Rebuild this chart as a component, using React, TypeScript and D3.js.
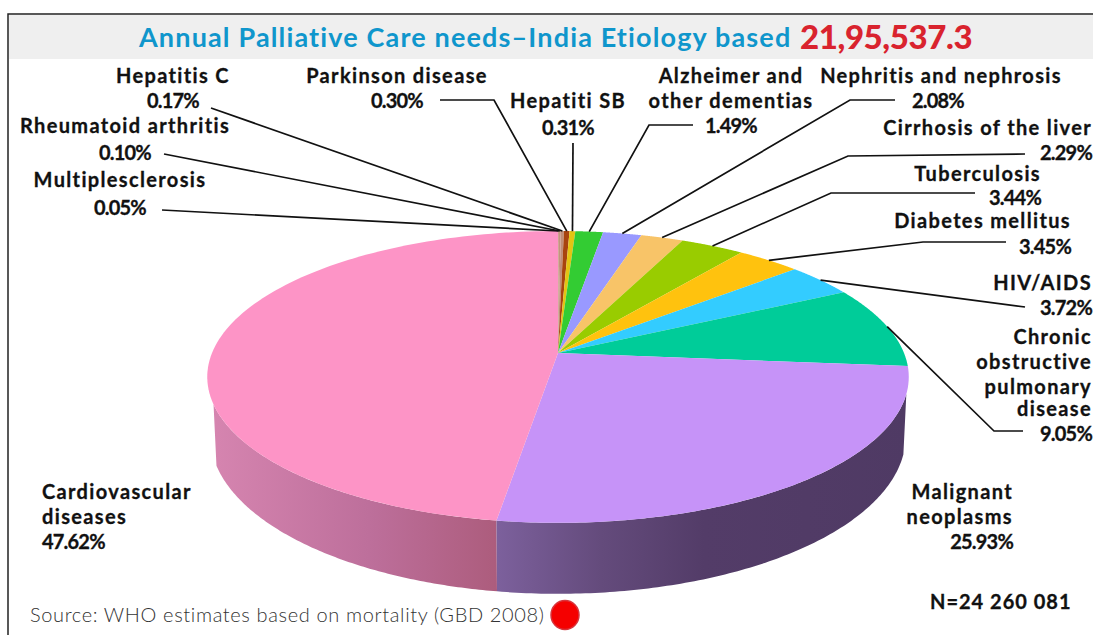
import * as React from 'react';
import * as d3 from 'd3';

const causes = ['Multiple sclerosis', 'Rheumatoid arthritis', 'Hepatitis C', 'Parkinson disease', 'Hepatitis B', 'Alzheimer and other dementias', 'Nephritis and nephrosis', 'Cirrhosis of the liver', 'Tuberculosis', 'Diabetes mellitus', 'HIV/AIDS', 'COPD', 'Malignant neoplasms', 'Cardiovascular diseases'];
const shares = [0.05, 0.10, 0.17, 0.30, 0.31, 1.49, 2.08, 2.29, 3.44, 3.45, 3.72, 9.05, 25.93, 47.62];
const colors = ['#c99a86', '#c4937e', '#c08e78', '#a8440f', '#e3c413', '#33cc33', '#9999ff', '#f8c468', '#99cc00', '#ffc20e', '#33ccff', '#00cc99', '#c693f8', '#fd94c6'];

// label text lines, separate from geometry
const labelLayout = [
  { lines: [['Hepatitis C', 173, 83], ['0.17%', 173, 108]], anchor: 'middle', leader: [[211, 108]], slice: 2 },
  { lines: [['Rheumatoid arthritis', 125, 133], ['0.10%', 125, 160]], anchor: 'middle', leader: [[164, 154]], slice: 1 },
  { lines: [['Multiplesclerosis', 120, 187], ['0.05%', 120, 215]], anchor: 'middle', leader: [[162, 210]], slice: 0 },
  { lines: [['Parkinson disease', 397, 83], ['0.30%', 397, 108]], anchor: 'middle', leader: [[440, 100], [494, 100]], slice: 3 },
  { lines: [['Hepatiti SB', 568, 108], ['0.31%', 568, 135]], anchor: 'middle', leader: [[573, 143]], slice: 4 },
  { lines: [['Alzheimer and', 731, 83], ['other dementias', 731, 108], ['1.49%', 731, 133]], anchor: 'middle', leader: [[693, 125], [649, 125]], slice: 5 },
  { lines: [['Nephritis and nephrosis', 941, 83], ['2.08%', 938, 108]], anchor: 'middle', leader: [[895, 100], [850, 100]], slice: 6 },
  { lines: [['Cirrhosis of the liver', 1092, 135], ['2.29%', 1092, 160]], anchor: 'end', leader: [[1025, 154], [848, 156]], slice: 7 },
  { lines: [['Tuberculosis', 1041, 181], ['3.44%', 1041, 205]], anchor: 'end', leader: [[975, 193], [831, 193]], slice: 8 },
  { lines: [['Diabetes mellitus', 1071, 228], ['3.45%', 1071, 254]], anchor: 'end', leader: [[1006, 242], [923, 242]], slice: 9 },
  { lines: [['HIV/AIDS', 1092, 290], ['3.72%', 1092, 315]], anchor: 'end', leader: [[1025, 307]], slice: 10 },
  { lines: [['Chronic', 1092, 344], ['obstructive', 1092, 369], ['pulmonary', 1092, 394], ['disease', 1092, 416], ['9.05%', 1092, 441]], anchor: 'end', leader: [[1023, 431], [994, 431]], slice: 11 },
  { lines: [['Malignant', 1013, 499], ['neoplasms', 1013, 524], ['25.93%', 1013, 549]], anchor: 'end', leader: [], slice: 12 },
  { lines: [['Cardiovascular', 42, 499], ['diseases', 42, 524], ['47.62%', 42, 549]], anchor: 'start', leader: [], slice: 13 },
];

const cx = 558;
const cy = 353;
const rx = 346;
const ry = 142;
const persp = 0.164;

// tilted disc with a little perspective: the far rim is squeezed, near rim stretched
const project = (a: number): [number, number] => {
  const x = Math.sin(a);
  const y = -Math.cos(a);
  const w = 1 - persp * y;
  return [cx + (rx * x) / w, cy + (ry * y) / w];
};

// the lower rim of the wall is a slightly rounder ellipse, not just a shifted copy
const rimMidY = 377;
const projectLow = (a: number): [number, number] => {
  const [x, y] = project(a);
  return [cx + (x - cx) * 0.9915, rimMidY + (y - rimMidY) * 1.082 + 59];
};

const pie = d3.pie<number>().sort(null).value(d => d);
const slices = pie(shares);
const line = d3.line();
const arcPoints = (a0: number, a1: number, fn = project) =>
  d3.range(0, 121).map(i => fn(a0 + ((a1 - a0) * i) / 120));

export default function App() {
  const purple = slices[12];
  const pink = slices[13];
  // side wall only runs along the near part of the rim
  const sideStart = (106 / 180) * Math.PI;
  const sideEnd = (250 / 180) * Math.PI;
  const sideWall = (a0: number, a1: number) =>
    line([...arcPoints(a0, a1), ...arcPoints(a0, a1, projectLow).reverse()]) + 'Z';

  return (
    <svg width={1093} height={635} style={{ position: 'absolute', left: 0, top: 0, background: '#fff' }} fontFamily="Lato" fontWeight={700}>
      <defs>
        <linearGradient id="pinkSide" gradientUnits="userSpaceOnUse" x1={210} x2={500} y1={0} y2={0}>
          <stop offset="0" stopColor="#d685b0" />
          <stop offset="0.55" stopColor="#bd6f9b" />
          <stop offset="1" stopColor="#ac5c7c" />
        </linearGradient>
        <linearGradient id="purpleSide" gradientUnits="userSpaceOnUse" x1={498} x2={910} y1={0} y2={0}>
          <stop offset="0" stopColor="#7c609c" />
          <stop offset="0.25" stopColor="#644b7c" />
          <stop offset="0.5" stopColor="#533c68" />
          <stop offset="1" stopColor="#4f3a64" />
        </linearGradient>
      </defs>

      <rect x={9} y={15} width={1084} height={44} fill="#efefef" />
      <path d="M8,635V14H1093" fill="none" stroke="#222" strokeWidth={1.5} />
      <text x={139} y={47} fontSize={27} fill="#0f96cc" letterSpacing={1.15}>
        Annual Palliative Care needs–India Etiology based
      </text>
      <text x={800} y={49} fontSize={33} fontWeight={900} fill="#d9232e" letterSpacing={-0.4}>21,95,537.3</text>

      <path d={sideWall(pink.startAngle, sideEnd)} fill="url(#pinkSide)" />
      <path d={sideWall(sideStart, purple.endAngle)} fill="url(#purpleSide)" />

      {slices.map((s, i) => (
        <path
          key={causes[i]}
          d={line([[cx, cy], ...arcPoints(s.startAngle, s.endAngle)]) + 'Z'}
          fill={colors[i]}
        />
      ))}

      {labelLayout.filter(l => l.leader.length).map(l => {
        const s = slices[l.slice];
        const rim = project((s.startAngle + s.endAngle) / 2);
        return (
          <path
            key={l.slice}
            d={line([...(l.leader as [number, number][]), rim]) as string}
            fill="none"
            stroke="#111"
            strokeWidth={1.7}
          />
        );
      })}

      <g fontSize={20} fill="#111" stroke="#111" strokeWidth={0.3}>
        {labelLayout.map(l =>
          l.lines.map(([t, x, y]) => (
            <text
              key={String(t)}
              x={x as number}
              y={y as number}
              textAnchor={l.anchor as any}
              letterSpacing={String(t).endsWith('%') ? -0.8 : 1.35}
            >
              {t}
            </text>
          ))
        )}
        <text x={930} y={609} letterSpacing={1}>N=24 260 081</text>
      </g>

      <text x={30} y={622} fontSize={20} fontWeight={300} fill="#333" letterSpacing={0.64}>
        Source: WHO estimates based on mortality (GBD 2008)
      </text>
      <ellipse cx={565} cy={615} rx={14} ry={14.5} fill="#f50000" stroke="#d8343c" strokeWidth={1.5} />
    </svg>
  );
}
